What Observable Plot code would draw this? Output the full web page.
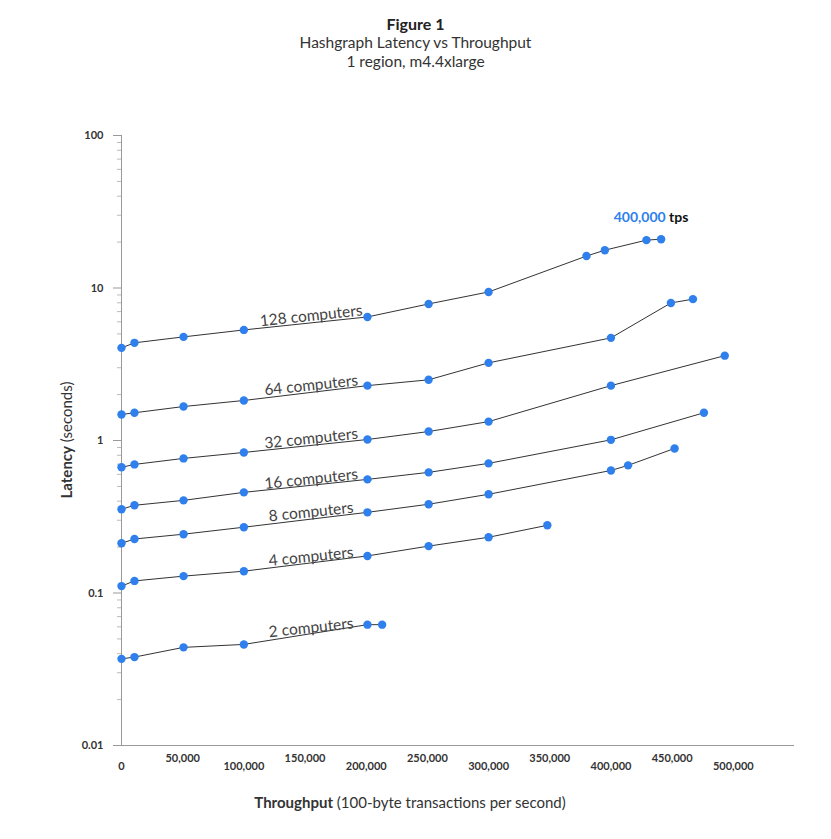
<!DOCTYPE html>
<html>
<head>
<meta charset="utf-8">
<script src="https://cdn.jsdelivr.net/npm/d3@7"></script>
<script src="https://cdn.jsdelivr.net/npm/@observablehq/plot@0.6"></script>
<style>
  body { margin: 0; background: #fff; font-family: Lato, "Noto Sans", sans-serif; }
  #head { text-align: center; padding-top: 14px; height: 85px; box-sizing: border-box; color: #333; }
  #head .t { font-weight: 700; font-size: 16px; color: #222; }
  #head .s { font-size: 15.5px; line-height: 19px; }
</style>
</head>
<body>
<div id="head">
  <div class="t">Figure 1</div>
  <div class="s">Hashgraph Latency vs Throughput</div>
  <div class="s">1 region, m4.4xlarge</div>
</div>
<div id="chart"></div>
<script>
var series = ['128 computers', '64 computers', '32 computers', '16 computers', '8 computers', '4 computers', '2 computers'];
var throughput = [
  [0, 10600, 50700, 100000, 201000, 251000, 300000, 380000, 395000, 429000, 441000],
  [0, 10600, 50700, 100000, 201000, 251000, 300000, 400000, 449000, 467000],
  [0, 10600, 50700, 100000, 201000, 251000, 300000, 400000, 493000],
  [0, 10600, 50700, 100000, 201000, 251000, 300000, 400000, 476000],
  [0, 10600, 50700, 100000, 201000, 251000, 300000, 400000, 414000, 452000],
  [0, 10600, 50700, 100000, 201000, 251000, 300000, 348000],
  [0, 10600, 50700, 100000, 201000, 213000]
];
var latency = [
  [4.05, 4.37, 4.78, 5.31, 6.46, 7.86, 9.42, 16.2, 17.7, 20.6, 20.9],
  [1.48, 1.52, 1.67, 1.83, 2.29, 2.5, 3.23, 4.71, 7.98, 8.45],
  [0.667, 0.697, 0.763, 0.835, 1.015, 1.145, 1.33, 2.29, 3.6],
  [0.354, 0.376, 0.405, 0.457, 0.556, 0.618, 0.708, 1.01, 1.52],
  [0.212, 0.226, 0.243, 0.27, 0.338, 0.382, 0.444, 0.636, 0.687, 0.887],
  [0.111, 0.12, 0.129, 0.139, 0.175, 0.203, 0.232, 0.278],
  [0.037, 0.038, 0.044, 0.046, 0.062, 0.062]
];
// label anchor (throughput) and value just above the line
var labelX = [155000, 155000, 155000, 155000, 155000, 155000, 155000];
var labelY = [6.0, 2.1, 0.94, 0.51, 0.31, 0.158, 0.054];

var data = [];
series.forEach(function(s, i) {
  throughput[i].forEach(function(x, j) { data.push({series: s, x: x, y: latency[i][j]}); });
});
var labels = series.map(function(s, i) { return {series: s, x: labelX[i], y: labelY[i]}; });

var majorY = [0.01, 0.1, 1, 10, 100];
var minorY = [];
[0.01, 0.1, 1, 10].forEach(function(b) { for (var k = 2; k < 10; k++) minorY.push(b * k); });
var xEven = [0, 100000, 200000, 300000, 400000, 500000];
var xOdd = [50000, 150000, 250000, 350000, 450000];
var fmt = d3.format(',');

var chart = Plot.plot({
  width: 831,
  height: 740,
  marginLeft: 121,
  marginRight: 37,
  marginTop: 50,
  marginBottom: 80,
  x: { type: 'linear', domain: [0, 550000], label: null, axis: null },
  y: { type: 'log', domain: [0.01, 100], label: null, axis: null },
  style: { fontFamily: 'Lato, "Noto Sans", sans-serif', fontSize: 12, color: '#333' },
  marks: [
    Plot.ruleX([0], { y1: 0.01, y2: 100, stroke: '#999' }),
    Plot.ruleY([0.01], { x1: 0, x2: 550000, stroke: '#999' }),
    Plot.axisY(minorY, { anchor: 'left', tickSize: 4, tickFormat: function() { return ''; }, stroke: '#bbb', label: null }),
    Plot.axisY(majorY, { anchor: 'left', tickSize: 8, tickFormat: function(d) { return String(d); }, fontWeight: 700, fontSize: 11, tickPadding: 10, stroke: '#999', label: null }),
    Plot.axisX(xEven, { anchor: 'bottom', tickSize: 0, tickPadding: 17, tickFormat: fmt, fontWeight: 700, fontSize: 11, label: null }),
    Plot.axisX(xOdd, { anchor: 'bottom', tickSize: 0, tickPadding: 9, tickFormat: fmt, fontWeight: 700, fontSize: 11, label: null }),
    Plot.line(data, { x: 'x', y: 'y', z: 'series', stroke: '#333', strokeWidth: 1 }),
    Plot.dot(data, { x: 'x', y: 'y', r: 4.2, fill: '#2f80ed' }),
    Plot.text(labels, { x: 'x', y: 'y', text: 'series', rotate: -6, fontSize: 15.5, fill: '#444', dy: -6 })
  ]
});

var svg = d3.select(chart);
svg.append('text')
  .attr('transform', 'translate(72,' + (50 + 305) + ') rotate(-90)')
  .attr('text-anchor', 'middle').attr('font-size', 15).attr('fill', '#333')
  .call(function(t) {
    t.append('tspan').attr('font-weight', 700).text('Latency');
    t.append('tspan').text(' (seconds)');
  });
svg.append('text')
  .attr('x', 410).attr('y', 723)
  .attr('text-anchor', 'middle').attr('font-size', 15).attr('fill', '#333')
  .call(function(t) {
    t.append('tspan').attr('font-weight', 700).text('Throughput');
    t.append('tspan').text(' (100-byte transactions per second)');
  });
svg.append('text')
  .attr('x', 651).attr('y', 137)
  .attr('font-size', 14).attr('font-weight', 700)
  .call(function(t) {
    t.append('tspan').attr('fill', '#2f80ed').text('400,000');
    t.append('tspan').attr('fill', '#111').text(' tps');
  });

d3.select('#chart').append(function() { return chart; });
</script>
</body>
</html>
